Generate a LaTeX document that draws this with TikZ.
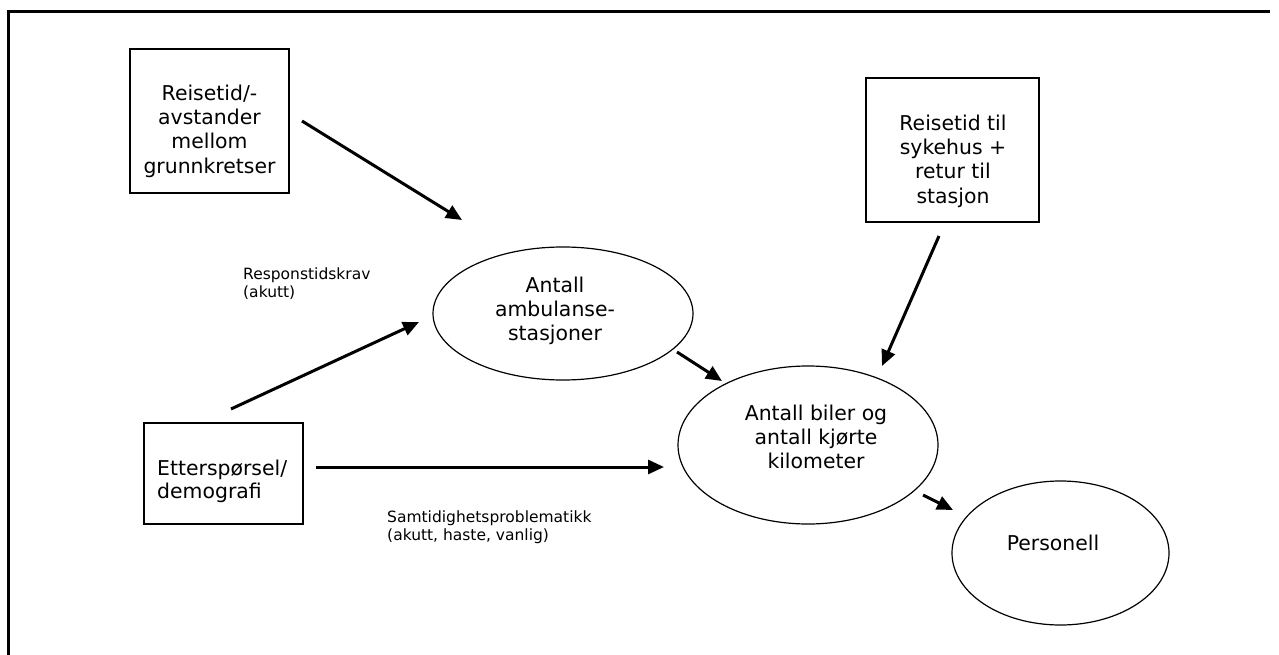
\documentclass[tikz,border=0pt]{standalone}
\usepackage{fontspec}
\setmainfont{DejaVu Sans}
\usetikzlibrary{arrows.meta,shapes.geometric}
\begin{document}
\begin{tikzpicture}[x=1pt,y=-1pt,
  frameline/.style={line width=2.4pt},
  boxnode/.style={draw,line width=1.3pt,rectangle,inner sep=0pt},
  ellnode/.style={draw,line width=1.2pt,ellipse,inner sep=0pt},
  maintxt/.style={font=\fontsize{20.4}{24.3}\selectfont,inner sep=0pt,align=center},
  lefttxt/.style={font=\fontsize{20.4}{23.3}\selectfont,inner sep=0pt,align=left},
  smalltxt/.style={font=\fontsize{15.5}{18.5}\selectfont,inner sep=0pt,align=left},
  arr/.style={line width=3pt,-{Triangle[length=16pt,width=14pt]}}]
\useasboundingbox (0,0) rectangle (1279,655);
% frame
\draw[frameline] (8.5,656) -- (8.5,11.7) -- (1270,11.7);
% shapes
\node[boxnode,minimum width=159pt,minimum height=144pt] (b1) at (209.5,121) {};
\node[boxnode,minimum width=173pt,minimum height=144pt] (b2) at (952.5,150) {};
\node[boxnode,minimum width=159pt,minimum height=101pt] (b3) at (223.5,473.5) {};
\node[ellnode,minimum width=260pt,minimum height=133pt] (e1) at (563,313.5) {};
\node[ellnode,minimum width=260pt,minimum height=158pt] (e2) at (808,445) {};
\node[ellnode,minimum width=217pt,minimum height=144pt] (e3) at (1060.5,553) {};
% texts
\node[maintxt,anchor=north] (t1) at (209.5,84.5) {Reisetid/-\\avstander\\mellom\\grunnkretser};
\node[maintxt,anchor=north] (t2) at (953,114.5) {Reisetid til\\sykehus +\\retur til\\stasjon};
\node[lefttxt,anchor=north west] (t3) at (157,459.5) {Etterspørsel/\\demografi};
\node[maintxt,anchor=north] (t4) at (555,276.5) {Antall\\ambulanse-\\stasjoner};
\node[maintxt,anchor=north] (t5) at (816,404.5) {Antall biler og\\antall kjørte\\kilometer};
\node[maintxt,anchor=base] (t6) at (1053,550) {Personell};
\node[smalltxt,anchor=north west] (l1) at (243,267.2) {Responstidskrav\\(akutt)};
\node[smalltxt,anchor=north west] (l2) at (387,510.2) {Samtidighetsproblematikk\\(akutt, haste, vanlig)};
% arrow end points
\coordinate (a1s) at (302,121);  \coordinate (a1e) at (462,220);
\coordinate (a2s) at (231,409);  \coordinate (a2e) at (419,322);
\coordinate (a3s) at (677,352);  \coordinate (a3e) at (722,381);
\coordinate (a4s) at (316,467);  \coordinate (a4e) at (664,467);
\coordinate (a5s) at (939,236);  \coordinate (a5e) at (882,366);
\coordinate (a6s) at (923,495);  \coordinate (a6e) at (953,510);
\draw[arr] (a1s) -- (a1e);
\draw[arr] (a2s) -- (a2e);
\draw[arr] (a3s) -- (a3e);
\draw[arr] (a4s) -- (a4e);
\draw[arr] (a5s) -- (a5e);
\draw[arr] (a6s) -- (a6e);
\end{tikzpicture}
\end{document}
